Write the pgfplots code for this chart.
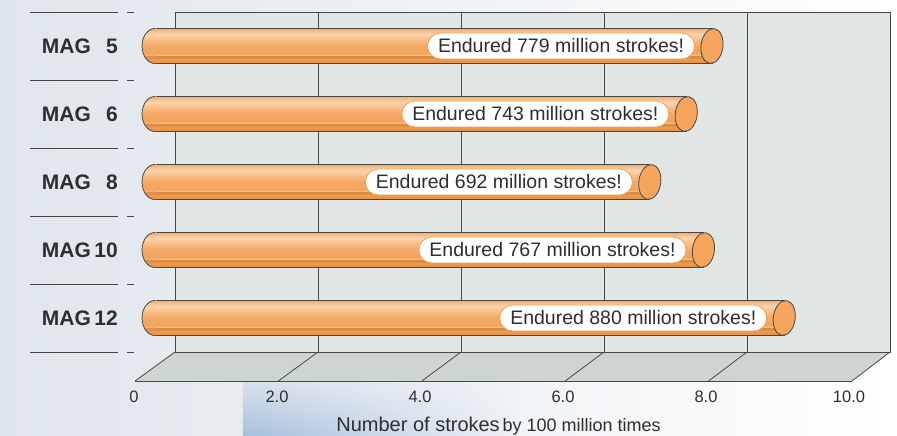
\documentclass[border=0pt]{standalone}
\usepackage{fontspec}
\setmainfont{Liberation Sans}
\usepackage{pgfplots}
\pgfplotsset{compat=1.18}
\usepackage{pgfplotstable}
\usetikzlibrary{fadings}

\definecolor{wallc}{HTML}{E1E6E5}
\definecolor{floorc}{HTML}{CCD5D2}
\definecolor{linec}{HTML}{474747}
\definecolor{capc}{HTML}{F5A65C}
\definecolor{bord}{HTML}{F0A04E}
\definecolor{txt}{HTML}{2E2E2E}
\definecolor{bgl}{HTML}{DFE5EC}
\definecolor{bgm}{HTML}{EFF2F6}
\definecolor{sky}{HTML}{A6BFDD}
\definecolor{o1}{HTML}{E48E40}
\definecolor{o2}{HTML}{EE9C50}
\definecolor{o3}{HTML}{DB8A42}
\definecolor{o4}{HTML}{FAC894}
\definecolor{o5}{HTML}{F2A45C}
\definecolor{o6}{HTML}{F5A864}
\definecolor{o7}{HTML}{F9BD86}
\definecolor{o8}{HTML}{FCD5AE}
\definecolor{o9}{HTML}{F4AE70}

\pgfdeclareverticalshading{cylbar}{100bp}{color(0bp)=(o1); color(25bp)=(o1); color(31bp)=(o2); color(34bp)=(o3); color(36bp)=(o3); color(37.3bp)=(o4); color(39bp)=(o5); color(50bp)=(o6); color(59bp)=(o7); color(66.5bp)=(o8); color(75bp)=(o9); color(100bp)=(o9)}

\pgfdeclareplotmark{lcap}{%
  \pgfpathmoveto{\pgfqpoint{2pt}{17.5pt}}%
  \pgfpathlineto{\pgfqpoint{0pt}{17.5pt}}%
  \pgfpatharc{90}{270}{13pt and 17.5pt}%
  \pgfpathlineto{\pgfqpoint{2pt}{-17.5pt}}%
  \pgfpathclose
  \pgfshadepath{cylbar}{0}%
  \pgfusepath{}%
  \pgfpathmoveto{\pgfqpoint{0pt}{17.5pt}}%
  \pgfpatharc{90}{270}{13pt and 17.5pt}%
  \pgfusepath{stroke}%
}
\pgfdeclareplotmark{rcap}{%
  \pgfpathellipse{\pgfpointorigin}{\pgfqpoint{10.8pt}{-1.9pt}}{\pgfqpoint{2.6pt}{17.3pt}}%
  \pgfusepathqfillstroke
}

\pgfplotstableread{
y v lab
4 7.79 779
3 7.43 743
2 6.92 692
1 7.67 767
0 8.80 880
}\data

\begin{document}
\begin{tikzpicture}[x=1pt,y=1pt]
\shade[left color=bgl,middle color=bgm,right color=white] (0,0) rectangle (897,436);
\shade[left color=sky,right color=bgm,path fading=north] (243,0) rectangle (520,70);
\useasboundingbox (0,0) rectangle (897,436);

% left separators
\foreach \yy in {84,152,220,288,356,424} {
  \draw[linec,line width=0.9pt] (30,\yy) -- (118,\yy);
  \draw[linec,line width=0.9pt] (127,\yy) -- (134,\yy);
}
% floor
\fill[floorc] (175,84) -- (890,84) -- (852,55) -- (135,55) -- cycle;
\draw[linec,line width=0.8pt] (135,55) -- (852,55);
\foreach \k in {0,...,5} {
  \draw[linec,line width=0.8pt] (175+143*\k,84) -- (135+143.4*\k,55);
}

\begin{axis}[
  at={(175pt,84pt)}, anchor=south west,
  scale only axis, width=715pt, height=340pt,
  xmin=0, xmax=10, ymin=-0.5, ymax=4.5,
  clip=false,
  axis background/.style={fill=wallc},
  axis line style={linec,line width=0.9pt},
  major tick length=0pt,
  xtick={0,2,4,6,8,10},
  xticklabels={0,2.0,4.0,6.0,8.0,10.0},
  xmajorgrids,
  grid style={linec,line width=0.8pt},
  ytick={0,1,2,3,4},
  yticklabels={MAG\,12,MAG\,10,MAG\,\hphantom{1}8,MAG\,\hphantom{1}6,MAG\,\hphantom{1}5},
  /pgf/number format/assume math mode=true,
  xticklabel style={anchor=base,xshift=-41pt,yshift=-51pt,inner sep=0pt,text=txt,font=\fontsize{16.5}{18}\selectfont},
  yticklabel style={anchor=base east,xshift=-57pt,yshift=-7.5pt,inner sep=0pt,text=txt,font=\bfseries\fontsize{21}{22}\selectfont},
  xlabel={{\fontsize{20}{22}\selectfont Number of strokes} {\fontsize{18}{20}\selectfont by 100 million times}},
  xlabel style={at={(axis description cs:0.5,0)},anchor=base,xshift=-34pt,yshift=-80pt,inner sep=0pt,text=txt},
]
\addplot[draw=none] coordinates {(0,0)};
\end{axis}

\begin{axis}[
  at={(155pt,84pt)}, anchor=south west,
  scale only axis, width=715pt, height=340pt,
  xmin=0, xmax=10, ymin=-0.5, ymax=4.5,
  hide axis, clip=false, clip marker paths=true,
]
\pgfplotsinvokeforeach{0,...,4}{
  \addplot[xbar, bar shift=0pt, bar width=35pt, shade, shading=cylbar, draw=linec, line width=0.8pt,
    restrict expr to domain={\coordindex}{#1:#1}] table[x=v,y=y]{\data};
}
\addplot[only marks, mark=lcap, mark options={draw=linec,line width=0.8pt}] table[x expr=0,y=y]{\data};
\addplot[only marks, mark=rcap, mark options={fill=capc,draw=linec,line width=0.8pt},
  point meta=explicit symbolic,
  nodes near coords={Endured \pgfplotspointmeta\ million strokes!},
  every node near coord/.append style={anchor=east,xshift=-17pt,fill=white,draw=bord,line width=0.8pt,rounded corners=13pt,minimum height=26pt,inner xsep=10.5pt,inner ysep=0pt,text=txt,font=\fontsize{19.5}{20}\selectfont}
] table[x=v,y=y,meta=lab]{\data};
\end{axis}
\end{tikzpicture}
\end{document}
